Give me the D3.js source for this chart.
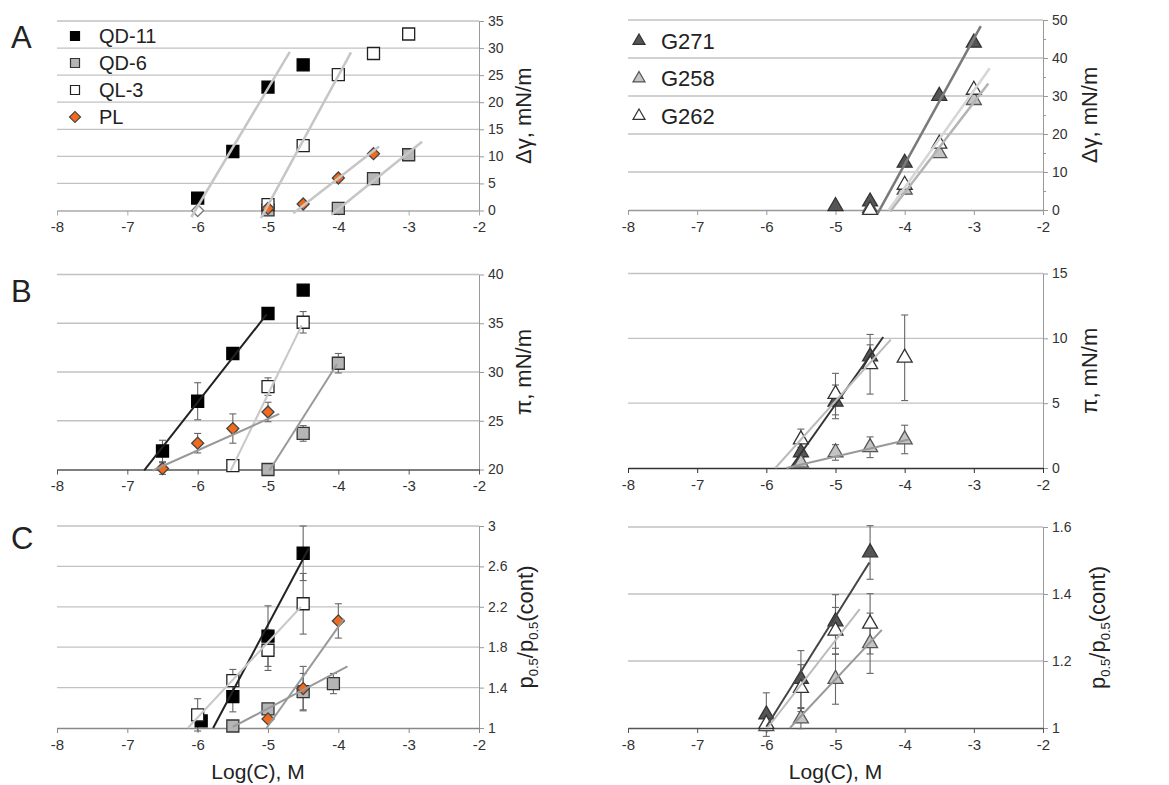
<!DOCTYPE html>
<html>
<head>
<meta charset="utf-8">
<script src="https://cdn.jsdelivr.net/npm/d3@7"></script>
<style>
body { margin: 0; background: #fff; }
svg text { font-family: "Liberation Sans", Arial, sans-serif; fill: #222; }
.tick text { font-size: 14px; fill: #333; }
</style>
</head>
<body>
<svg id="fig" width="1169" height="785"></svg>
<script>
const xTicks = [-8, -7, -6, -5, -4, -3, -2];

// row A: delta gamma
const aTicks = [0, 5, 10, 15, 20, 25, 30, 35];
const aQD11 = [[-6, 2.3], [-5.5, 10.9], [-5, 22.8], [-4.5, 26.9]];
const aQD6 = [[-5, 0.1], [-4, 0.4], [-3.5, 5.9], [-3, 10.3]];
const aQL3 = [[-5, 1.1], [-4.5, 12], [-4, 25.1], [-3.5, 29], [-3, 32.6]];
const aPL = [[-5, 0.4], [-4.5, 1.2], [-4, 6], [-3.5, 10.5]];
const aPLopen = [[-6, 0]];
const aFitQD11 = [[-6.09, -1.2], [-4.69, 29.3]];
const aFitQL3 = [[-5.1, -1.4], [-3.82, 29.2]];
const aFitQD6 = [[-4.1, -0.8], [-2.81, 12.7]];
const aFitPL = [[-4.64, -0.5], [-3.42, 11.8]];

const aGTicks = [0, 10, 20, 30, 40, 50];
const aGMinor = [5, 15, 25, 35, 45];
const aG271 = [[-5, 1], [-4.5, 2.2], [-4, 12.4], [-3.5, 30], [-3, 44]];
const aG258 = [[-4.5, 0.5], [-4, 5.3], [-3.5, 14.9], [-3, 28.9]];
const aG262 = [[-4.5, 0], [-4, 6.6], [-3.5, 17.4], [-3, 31.6]];
const aFitG271 = [[-4.39, -0.9], [-2.9, 48.4]];
const aFitG258 = [[-4.21, -0.4], [-2.79, 33.3]];
const aFitG262 = [[-4.23, 0], [-2.77, 37.3]];

// row B: pi (x, y, error)
const bTicks = [20, 25, 30, 35, 40];
const bQD11 = [[-6.5, 21.9, 1.1], [-6, 27, 1.9], [-5.5, 31.9, 0], [-5, 36, 0], [-4.5, 38.4, 0]];
const bQD6 = [[-5, 20, 0.5], [-4.5, 23.7, 0.8], [-4, 30.9, 1.0]];
const bQL3 = [[-5.5, 20.4, 0], [-5, 28.5, 0.9], [-4.5, 35.1, 1.1]];
const bPL = [[-6.5, 20.1, 0.6], [-6, 22.7, 1.0], [-5.5, 24.2, 1.5], [-5, 25.9, 1.0]];
const bFitQD11 = [[-6.76, 19.9], [-5.02, 35.9]];
const bFitQL3 = [[-5.53, 19.9], [-4.52, 34.8]];
const bFitQD6 = [[-4.98, 19.9], [-4.02, 30.8]];
const bFitPL = [[-6.64, 19.9], [-4.84, 25.7]];

const bGTicks = [0, 5, 10, 15];
const bG271 = [[-5.5, 1.2, 0.4], [-5, 5.1, 1.3], [-4.5, 8.6, 0.9]];
const bG258 = [[-5.5, 0.4, 0.3], [-5, 1.2, 0.6], [-4.5, 1.6, 0.8], [-4, 2.2, 1.1]];
const bG262 = [[-5.5, 2.2, 0.8], [-5, 5.7, 1.6], [-4.5, 8.0, 2.3], [-4, 8.5, 3.3]];
const bFitG271 = [[-5.65, 0], [-4.31, 10.1]];
const bFitG258 = [[-5.71, 0], [-3.94, 2.2]];
const bFitG262 = [[-5.87, 0], [-4.2, 9.9]];

// row C: p0.5 ratio
const cTicks = [1, 1.4, 1.8, 2.2, 2.6, 3];
const cQD11 = [[-5.95, 1.07, 0], [-5.5, 1.31, 0.15], [-5, 1.91, 0.3], [-4.5, 2.73, 0.27]];
const cQD6 = [[-5.5, 1.02, 0], [-5, 1.19, 0], [-4.5, 1.36, 0.18], [-4.07, 1.44, 0.1]];
const cQL3 = [[-6, 1.13, 0.16], [-5.5, 1.47, 0.11], [-5, 1.77, 0.2], [-4.5, 2.23, 0.3]];
const cPL = [[-5, 1.09, 0], [-4.5, 1.39, 0.22], [-4, 2.06, 0.17]];
const cFitQD11 = [[-5.78, 1.0], [-4.42, 2.78]];
const cFitQL3 = [[-6.14, 1.0], [-4.53, 2.2]];
const cFitQD6 = [[-5.5, 1.01], [-3.87, 1.61]];
const cFitPL = [[-5.02, 1.0], [-3.92, 2.08]];

const cGTicks = [1, 1.2, 1.4, 1.6];
const cG271 = [[-6, 1.04, 0.065], [-5.5, 1.146, 0.085], [-5, 1.318, 0.08], [-4.5, 1.524, 0.08]];
const cG258 = [[-6, 1.005, 0], [-5.5, 1.028, 0.03], [-5, 1.146, 0.075], [-4.5, 1.253, 0.09]];
const cG262 = [[-6, 1.012, 0.02], [-5.5, 1.119, 0.07], [-5, 1.29, 0.07], [-4.5, 1.311, 0.09]];
const cFitG271 = [[-6.0, 1.004], [-4.51, 1.494]];
const cFitG262 = [[-5.985, 1.0], [-4.65, 1.355]];
const cFitG258 = [[-5.66, 1.0], [-4.33, 1.293]];

const leftNames = ["QD-11", "QD-6", "QL-3", "PL"];
const rightNames = ["G271", "G258", "G262"];

const mark = {
  "QD-11": { shape: "square", fill: "#000", stroke: "#000" },
  "QD-6": { shape: "square", fill: "#b5b5b5", stroke: "#333" },
  "QL-3": { shape: "square", fill: "#fff", stroke: "#222" },
  "PL": { shape: "diamond", fill: "#f26a1b", stroke: "#444" },
  "PLopen": { shape: "diamond", fill: "#fff", stroke: "#777" },
  "G271": { shape: "triangle", fill: "#555", stroke: "#333" },
  "G258": { shape: "triangle", fill: "#c4c4c4", stroke: "#555" },
  "G262": { shape: "triangle", fill: "#fff", stroke: "#333" }
};

const svg = d3.select("#fig");

function symbolPath(shape, s) {
  if (shape === "square") return d3.symbol(d3.symbolSquare, s * s)();
  if (shape === "diamond") return d3.symbol(d3.symbolSquare, s * s * 0.5)();
  return d3.symbol(d3.symbolTriangle, s * s * 0.433)();
}

function panel(cfg) {
  const x = d3.scaleLinear().domain([-8, -2]).range([cfg.left, cfg.right]);
  const y = d3.scaleLinear().domain(cfg.yDomain).range([cfg.bottom, cfg.top]);
  const g = svg.append("g");

  // horizontal grid
  g.selectAll("line.grid")
    .data(cfg.yTicks.slice(1))
    .enter().append("line")
    .attr("class", "grid")
    .attr("x1", cfg.left).attr("x2", cfg.right)
    .attr("y1", d => y(d)).attr("y2", d => y(d))
    .attr("stroke", "#c2c2c2").attr("stroke-width", 1.3);

  // right axis
  const ya = g.append("g")
    .attr("transform", "translate(" + cfg.right + ",0)")
    .call(d3.axisRight(y).tickValues(cfg.yTicks).tickSize(5).tickSizeOuter(0).tickPadding(4)
      .tickFormat(d => String(d)));
  ya.select(".domain").attr("stroke", "#999");
  ya.selectAll(".tick line").attr("stroke", "#999");
  if (cfg.minor) {
    const ym = g.append("g")
      .attr("transform", "translate(" + cfg.right + ",0)")
      .call(d3.axisRight(y).tickValues(cfg.minor).tickSize(3).tickFormat(""));
    ym.select(".domain").remove();
    ym.selectAll(".tick line").attr("stroke", "#999");
  }

  // bottom axis
  const xa = g.append("g")
    .attr("transform", "translate(0," + cfg.bottom + ")")
    .call(d3.axisBottom(x).tickValues(xTicks).tickSize(5).tickSizeOuter(0).tickPadding(6)
      .tickFormat(d => String(d)));
  xa.select(".domain").attr("stroke", cfg.xAxisColor).attr("stroke-width", 1.6);
  xa.selectAll(".tick line").attr("stroke", cfg.xAxisColor);
  xa.selectAll(".tick text").style("font-size", "15px");

  // error bars
  cfg.series.forEach(s => {
    const eb = g.append("g");
    s.data.filter(d => d[2] > 0).forEach(d => {
      const cx = x(d[0]);
      eb.append("line").attr("x1", cx).attr("x2", cx)
        .attr("y1", y(d[1] - d[2])).attr("y2", y(d[1] + d[2]));
      [d[1] - d[2], d[1] + d[2]].forEach(v => {
        eb.append("line").attr("x1", cx - 3.5).attr("x2", cx + 3.5)
          .attr("y1", y(v)).attr("y2", y(v));
      });
    });
    eb.selectAll("line").attr("stroke", "#666").attr("stroke-width", 1.1);
  });

  // markers
  cfg.series.forEach(s => {
    const m = mark[s.key];
    g.selectAll(null).data(s.data).enter().append("path")
      .attr("d", symbolPath(m.shape, m.shape === "triangle" ? 15 : 12))
      .attr("transform", d => "translate(" + x(d[0]) + "," + y(d[1]) + ")" + (m.shape === "diamond" ? " rotate(45)" : ""))
      .attr("fill", m.fill).attr("stroke", m.stroke).attr("stroke-width", 1.3);
  });

  // trend lines
  const line = d3.line().x(d => x(d[0])).y(d => y(d[1]));
  cfg.fits.forEach(f => {
    g.append("path").attr("d", line(f.data))
      .attr("fill", "none").attr("stroke", f.color).attr("stroke-width", f.width || 2);
  });

  // y title
  const tx = cfg.right + cfg.titleDx, ty = (cfg.top + cfg.bottom) / 2;
  const t = g.append("text")
    .attr("transform", "translate(" + tx + "," + ty + ") rotate(-90)")
    .attr("text-anchor", "middle")
    .style("font-size", "22px");
  if (cfg.title === "p") {
    t.append("tspan").text("p");
    t.append("tspan").attr("dy", 5).style("font-size", "13px").text("0.5");
    t.append("tspan").attr("dy", -5).text("/p");
    t.append("tspan").attr("dy", 5).style("font-size", "13px").text("0.5");
    t.append("tspan").attr("dy", -5).text("(cont)");
  } else {
    t.text(cfg.title);
  }
  return { x, y, g };
}

const LX = [57, 479], RX = [628, 1043];

panel({ left: LX[0], right: LX[1], top: 21, bottom: 210.5, yDomain: [0, 35], yTicks: aTicks,
  xAxisColor: "#aaa", titleDx: 52, title: "Δγ, mN/m",
  series: [{ key: "QD-11", data: aQD11 }, { key: "QD-6", data: aQD6 }, { key: "QL-3", data: aQL3 },
    { key: "PLopen", data: aPLopen }, { key: "PL", data: aPL }],
  fits: [{ data: aFitQD11, color: "#c6c6c6", width: 2.5 }, { data: aFitQL3, color: "#c6c6c6", width: 2.5 },
    { data: aFitQD6, color: "#c6c6c6", width: 2.5 }, { data: aFitPL, color: "#c6c6c6", width: 2.5 }] });

panel({ left: RX[0], right: RX[1], top: 20, bottom: 210, yDomain: [0, 50], yTicks: aGTicks, minor: aGMinor,
  xAxisColor: "#999", titleDx: 54, title: "Δγ, mN/m",
  series: [{ key: "G271", data: aG271 }, { key: "G258", data: aG258 }, { key: "G262", data: aG262 }],
  fits: [{ data: aFitG271, color: "#7a7a7a", width: 2.5 }, { data: aFitG258, color: "#b4b4b4", width: 2.5 },
    { data: aFitG262, color: "#d6d6d6", width: 2.5 }] });

panel({ left: LX[0], right: LX[1], top: 274.5, bottom: 469.5, yDomain: [20, 40], yTicks: bTicks,
  xAxisColor: "#555", titleDx: 52, title: "π, mN/m",
  series: [{ key: "QD-11", data: bQD11 }, { key: "QD-6", data: bQD6 }, { key: "QL-3", data: bQL3 }, { key: "PL", data: bPL }],
  fits: [{ data: bFitQD11, color: "#222" }, { data: bFitQL3, color: "#c8c8c8" },
    { data: bFitQD6, color: "#999" }, { data: bFitPL, color: "#999" }] });

panel({ left: RX[0], right: RX[1], top: 273.5, bottom: 468, yDomain: [0, 15], yTicks: bGTicks,
  xAxisColor: "#333", titleDx: 54, title: "π, mN/m",
  series: [{ key: "G271", data: bG271 }, { key: "G258", data: bG258 }, { key: "G262", data: bG262 }],
  fits: [{ data: bFitG271, color: "#333" }, { data: bFitG258, color: "#999" }, { data: bFitG262, color: "#bbb" }] });

panel({ left: LX[0], right: LX[1], top: 526, bottom: 728, yDomain: [1, 3], yTicks: cTicks,
  xAxisColor: "#888", titleDx: 54, title: "p",
  series: [{ key: "QD-11", data: cQD11 }, { key: "QD-6", data: cQD6 }, { key: "QL-3", data: cQL3 }, { key: "PL", data: cPL }],
  fits: [{ data: cFitQD11, color: "#222" }, { data: cFitQL3, color: "#c8c8c8" },
    { data: cFitQD6, color: "#999" }, { data: cFitPL, color: "#999" }] });

panel({ left: RX[0], right: RX[1], top: 527, bottom: 728, yDomain: [1, 1.6], yTicks: cGTicks,
  xAxisColor: "#555", titleDx: 62, title: "p",
  series: [{ key: "G271", data: cG271 }, { key: "G258", data: cG258 }, { key: "G262", data: cG262 }],
  fits: [{ data: cFitG271, color: "#444" }, { data: cFitG262, color: "#bbb" }, { data: cFitG258, color: "#999" }] });

// panel letters
[["A", 48], ["B", 302], ["C", 549]].forEach(p => {
  svg.append("text").attr("x", 11).attr("y", p[1]).style("font-size", "31px").text(p[0]);
});

// x titles
[(LX[0] + LX[1]) / 2 - 10, (RX[0] + RX[1]) / 2].forEach(cx => {
  svg.append("text").attr("x", cx).attr("y", 779).attr("text-anchor", "middle")
    .style("font-size", "21px").text("Log(C), M");
});

// legend, left
const legL = svg.append("g");
leftNames.forEach((n, i) => {
  const m = mark[n];
  const cy = 36 + i * 27;
  legL.append("path")
    .attr("d", symbolPath(m.shape, m.shape === "diamond" ? 11 : 9))
    .attr("transform", "translate(75," + cy + ")" + (m.shape === "diamond" ? " rotate(45)" : ""))
    .attr("fill", m.fill).attr("stroke", m.stroke).attr("stroke-width", 1.2);
  legL.append("text").attr("x", 99).attr("y", cy).attr("dy", "0.36em")
    .style("font-size", "20px").text(n);
});

// legend, right
const legR = svg.append("g");
rightNames.forEach((n, i) => {
  const m = mark[n];
  const cy = 41 + i * 37.5;
  legR.append("path")
    .attr("d", symbolPath("triangle", 12))
    .attr("transform", "translate(639," + cy + ")")
    .attr("fill", m.fill).attr("stroke", m.stroke).attr("stroke-width", 1.2);
  legR.append("text").attr("x", 661).attr("y", cy).attr("dy", "0.36em")
    .style("font-size", "22px").text(n);
});
</script>
</body>
</html>
